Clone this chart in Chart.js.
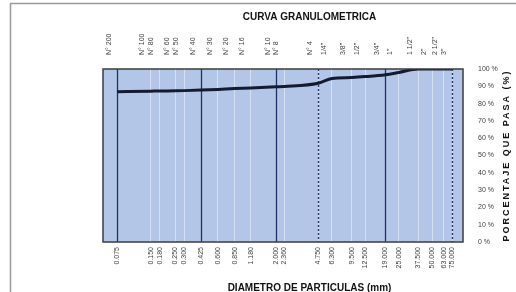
<!DOCTYPE html>
<html>
<head>
<meta charset="utf-8">
<script src="https://cdn.jsdelivr.net/npm/chart.js@4.4.0/dist/chart.umd.min.js"></script>
<style>
  html, body { margin: 0; padding: 0; background: #fff; }
  #wrap { width: 516px; height: 292px; }
</style>
</head>
<body>
<div id="wrap"><canvas id="chart" width="516" height="292"></canvas></div>
<script>
// tamices (mm), nombres y % que pasa
const sieveSizes = [0.075, 0.15, 0.18, 0.25, 0.3, 0.425, 0.6, 0.85, 1.18, 2, 2.36, 4.75, 6.3, 9.5, 12.5, 19, 25, 37.5, 50, 63, 75];
const sizeLabels = ['0.075', '0.150', '0.180', '0.250', '0.300', '0.425', '0.600', '0.850', '1.180', '2.000', '2.360', '4.750', '6.300', '9.500', '12.500', '19.000', '25.000', '37.500', '50.000', '63.000', '75.000'];
const sieveNames = ['N° 200', 'N° 100', 'N° 80', 'N° 60', 'N° 50', 'N° 40', 'N° 30', 'N° 20', 'N° 16', 'N° 10', 'N° 8', 'N° 4', '1/4"', '3/8"', '1/2"', '3/4"', '1"', '1 1/2"', '2"', '2 1/2"', '3"'];
const percentPassing = [86.9, 87.2, 87.3, 87.4, 87.5, 87.8, 88.2, 88.7, 89.0, 89.7, 89.9, 91.8, 94.5, 95.1, 95.6, 96.7, 98.0, 100, 100, 100, 100];
const yTicks = [0, 10, 20, 30, 40, 50, 60, 70, 80, 90, 100];
const boundarySizes = [0.075, 0.425, 2, 4.75, 19, 75];
const dashedBoundaries = [4.75, 75];

const font = "'Liberation Sans', Arial, sans-serif";

const framePlugin = {
    id: 'frame',
    beforeDraw(chart) {
        const { ctx, chartArea: a } = chart;
        ctx.save();
        ctx.fillStyle = '#fff';
        ctx.fillRect(0, 0, chart.width, chart.height);
        ctx.strokeStyle = '#9a9a9a';
        ctx.lineWidth = 1.5;
        ctx.strokeRect(10.5, 3.5, chart.width + 10, chart.height + 10);
        ctx.fillStyle = '#b4c6e7';
        ctx.fillRect(a.left, a.top, a.right - a.left, a.bottom - a.top);
        ctx.restore();
    },
    beforeDatasetsDraw(chart) {
        const { ctx, chartArea: a } = chart;
        const x = chart.scales.x;
        ctx.save();
        ctx.strokeStyle = '#1f3264';
        ctx.lineWidth = 1.3;
        boundarySizes.forEach(v => {
            const px = Math.round(x.getPixelForValue(v)) + 0.5;
            ctx.setLineDash(dashedBoundaries.includes(v) ? [2, 2] : []);
            ctx.beginPath();
            ctx.moveTo(px, a.top);
            ctx.lineTo(px, a.bottom);
            ctx.stroke();
        });
        ctx.restore();
    },
    afterDraw(chart) {
        const { ctx, chartArea: a } = chart;
        ctx.save();
        ctx.strokeStyle = '#3c3c3c';
        ctx.lineWidth = 1.5;
        ctx.strokeRect(a.left, a.top, a.right - a.left, a.bottom - a.top);
        // titulo eje derecho
        ctx.translate(507, (a.top + a.bottom) / 2);
        ctx.rotate(-Math.PI / 2);
        ctx.fillStyle = '#111';
        ctx.font = 'bold 9px ' + font;
        ctx.textAlign = 'center';
        ctx.textBaseline = 'middle';
        ctx.letterSpacing = '2px';
        ctx.fillText('PORCENTAJE QUE PASA (%)', 0, 0);
        ctx.restore();
    }
};

const ctx = document.getElementById('chart');

new Chart(ctx, {
    type: 'scatter',
    data: {
        datasets: [{
            label: '% que pasa',
            data: sieveSizes.map((s, i) => ({ x: s, y: percentPassing[i] })),
            showLine: true,
            borderColor: '#141a30',
            backgroundColor: '#141a30',
            borderWidth: 3,
            pointRadius: 0,
            cubicInterpolationMode: 'monotone',
            xAxisID: 'x',
            yAxisID: 'y'
        }]
    },
    options: {
        responsive: false,
        animation: false,
        layout: { padding: { left: 103, right: 0, top: 0, bottom: 0 } },
        plugins: {
            legend: { display: false },
            tooltip: { enabled: false },
            title: {
                display: true,
                text: 'CURVA GRANULOMETRICA',
                color: '#111',
                font: { family: font, size: 10, weight: 'bold' },
                padding: { top: 11, bottom: 4 }
            },
            subtitle: {
                display: true,
                position: 'bottom',
                text: 'DIAMETRO DE PARTICULAS (mm)',
                color: '#111',
                font: { family: font, size: 10, weight: 'bold' },
                padding: { top: 0, bottom: -2 }
            }
        },
        scales: {
            x: {
                type: 'logarithmic',
                position: 'bottom',
                min: 0.056,
                max: 94,
                afterBuildTicks: scale => { scale.ticks = sieveSizes.map(v => ({ value: v })); },
                afterFit: scale => { scale.height = 40; },
                ticks: {
                    autoSkip: false,
                    minRotation: 90,
                    maxRotation: 90,
                    padding: 5,
                    color: '#404040',
                    font: { family: font, size: 7 },
                    callback: (value, index) => sizeLabels[index]
                },
                grid: { color: 'rgba(255,255,255,0.45)', lineWidth: 1, drawTicks: false },
                border: { display: false }
            },
            xTop: {
                type: 'logarithmic',
                position: 'top',
                min: 0.056,
                max: 94,
                afterBuildTicks: scale => { scale.ticks = sieveSizes.map(v => ({ value: v })); },
                afterFit: scale => { scale.height = 42; },
                ticks: {
                    autoSkip: false,
                    minRotation: 90,
                    maxRotation: 90,
                    padding: 6,
                    color: '#404040',
                    font: { family: font, size: 7 },
                    callback: (value, index) => sieveNames[index]
                },
                grid: { display: false },
                border: { display: false }
            },
            y: {
                position: 'right',
                min: 0,
                max: 100,
                afterBuildTicks: scale => { scale.ticks = yTicks.map(v => ({ value: v })); },
                afterFit: scale => { scale.width = 53; },
                ticks: {
                    padding: 7,
                    color: '#404040',
                    font: { family: font, size: 7 },
                    callback: value => value + ' %'
                },
                grid: { display: false },
                border: { display: false }
            }
        }
    },
    plugins: [framePlugin]
});
</script>
</body>
</html>
